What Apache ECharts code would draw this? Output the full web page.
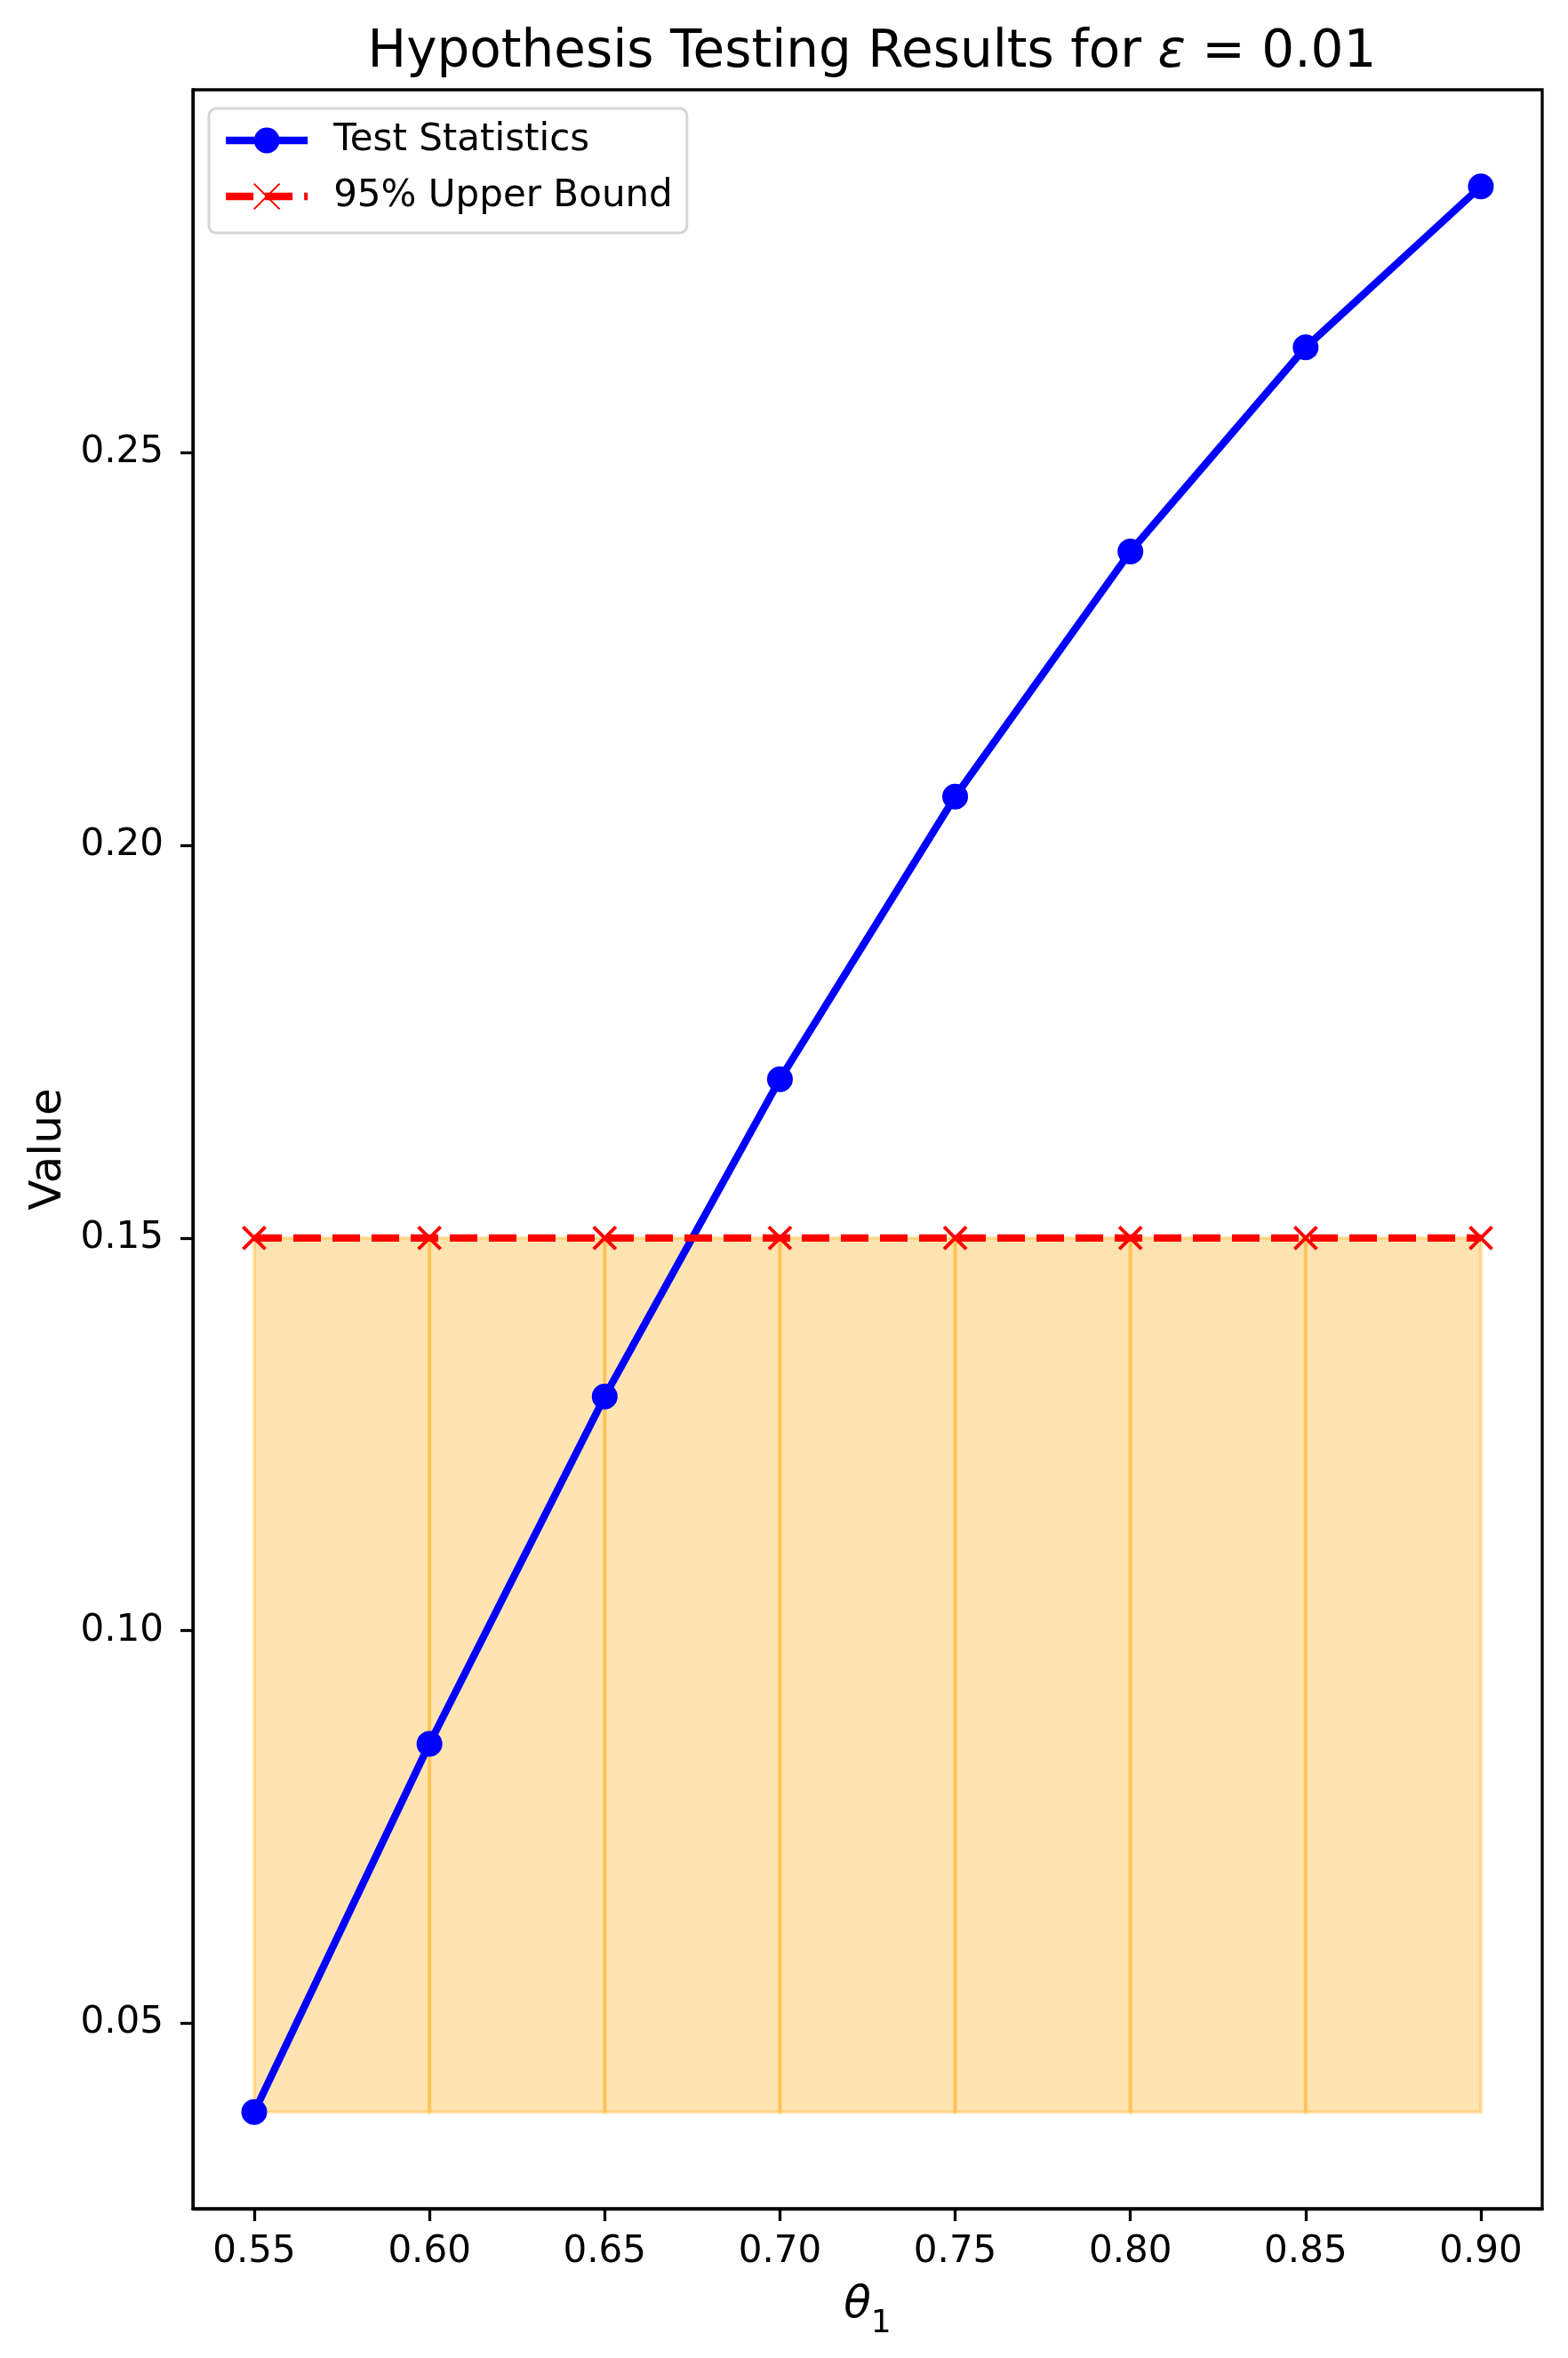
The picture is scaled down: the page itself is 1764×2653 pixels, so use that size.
<!DOCTYPE html>
<html>
<head>
<meta charset="utf-8">
<title>Hypothesis Testing Results</title>
<script src="https://cdn.jsdelivr.net/npm/echarts@6/dist/echarts.min.js"></script>
<style>
  html, body { margin: 0; padding: 0; background: #fff; }
  #chart { width: 1764px; height: 2653px; }
</style>
</head>
<body>
<div id="chart"></div>
<script>
// values
var theta = [0.55, 0.60, 0.65, 0.70, 0.75, 0.80, 0.85, 0.90];
var testStats = [0.0387, 0.0856, 0.1298, 0.1702, 0.2062, 0.2374, 0.2634, 0.2839];
var upperBound = [0.15, 0.15, 0.15, 0.15, 0.15, 0.15, 0.15, 0.15];
var xTicks = [0.55, 0.60, 0.65, 0.70, 0.75, 0.80, 0.85, 0.90];
var yTicks = [0.05, 0.10, 0.15, 0.20, 0.25];
var xRange = [0.5325, 0.9175];
var yRange = [0.0264, 0.2962];

var font = 'DejaVu Sans';
var fillLow = Math.min.apply(null, testStats);

// one shaded block per step, like the separate fills in the original
var fillSegs = [];
for (let i = 0; i < theta.length - 1; i++) {
    fillSegs.push([theta[i], theta[i + 1], fillLow, upperBound[i]]);
}

function pairs(xs, ys) {
    return xs.map(function (x, i) { return [x, ys[i]]; });
}

var myChart = echarts.init(document.getElementById('chart'));

var option = {
    animation: false,
    backgroundColor: '#fff',
    title: {
        text: 'Hypothesis Testing Results for {i|ε} = 0.01',
        left: 976,
        top: 26,
        textAlign: 'center',
        textStyle: {
            fontFamily: font,
            fontSize: 58,
            fontWeight: 'normal',
            color: '#000',
            rich: {
                i: { fontFamily: font, fontSize: 58, fontStyle: 'italic', color: '#000' }
            }
        }
    },
    legend: {
        orient: 'vertical',
        left: 235,
        top: 122,
        padding: [15, 16, 20, 15],
        itemWidth: 92,
        itemHeight: 36,
        itemGap: 21,
        borderColor: '#d6d6d6',
        borderWidth: 3,
        borderRadius: 8,
        backgroundColor: 'rgba(255,255,255,0.8)',
        lineStyle: { width: 'inherit', type: 'inherit' },
        textStyle: {
            fontFamily: font,
            fontSize: 42,
            lineHeight: 42,
            color: '#000',
            padding: [0, 0, 0, 24]
        },
        data: ['Test Statistics', '95% Upper Bound']
    },
    grid: {
        left: 217,
        right: 29,
        top: 101,
        bottom: 168,
        show: true,
        borderColor: '#000',
        borderWidth: 3.3,
        containLabel: false
    },
    xAxis: {
        type: 'value',
        min: xRange[0],
        max: xRange[1],
        name: '{i|θ}{s|1}',
        nameLocation: 'middle',
        nameGap: 84,
        nameTextStyle: {
            rich: {
                i: { fontFamily: font, fontSize: 50, fontStyle: 'italic', color: '#000' },
                s: { fontFamily: font, fontSize: 36, color: '#000', verticalAlign: 'bottom', padding: [0, 0, -14, 0] }
            }
        },
        axisLine: { lineStyle: { color: '#000', width: 3.3 } },
        axisTick: { length: 14, lineStyle: { color: '#000', width: 3.3 }, customValues: xTicks },
        axisLabel: {
            customValues: xTicks,
            margin: 28,
            fontFamily: font,
            fontSize: 42,
            color: '#000',
            formatter: function (v) { return v.toFixed(2); }
        },
        splitLine: { show: false }
    },
    yAxis: {
        type: 'value',
        min: yRange[0],
        max: yRange[1],
        name: 'Value',
        nameLocation: 'middle',
        nameGap: 137,
        nameTextStyle: { fontFamily: font, fontSize: 50, color: '#000' },
        axisLine: { show: true, lineStyle: { color: '#000', width: 3.3 } },
        axisTick: { show: true, length: 14, lineStyle: { color: '#000', width: 3.3 }, customValues: yTicks },
        axisLabel: {
            customValues: yTicks,
            margin: 33,
            fontFamily: font,
            fontSize: 42,
            color: '#000',
            formatter: function (v) { return v.toFixed(2); }
        },
        splitLine: { show: false }
    },
    series: [
        {
            name: 'fill',
            type: 'custom',
            z: 1,
            silent: true,
            encode: { x: [0, 1], y: [2, 3] },
            data: fillSegs,
            renderItem: function (params, api) {
                var p0 = api.coord([api.value(0), api.value(3)]);
                var p1 = api.coord([api.value(1), api.value(2)]);
                return {
                    type: 'rect',
                    shape: { x: p0[0], y: p0[1], width: p1[0] - p0[0], height: p1[1] - p0[1] },
                    style: {
                        fill: 'rgba(255,165,0,0.3)',
                        stroke: 'rgba(255,165,0,0.3)',
                        lineWidth: 4
                    }
                };
            }
        },
        {
            name: 'Test Statistics',
            type: 'line',
            z: 3,
            data: pairs(theta, testStats),
            symbol: 'circle',
            symbolSize: 29,
            showAllSymbol: true,
            lineStyle: { color: '#0000ff', width: 8.3 },
            itemStyle: { color: '#0000ff', borderWidth: 0 }
        },
        {
            name: '95% Upper Bound',
            type: 'line',
            z: 4,
            data: pairs(theta, upperBound),
            symbol: 'path://M0,0L10,10M10,0L0,10',
            symbolSize: 25,
            showAllSymbol: true,
            lineStyle: { color: '#ff0000', width: 8.3, type: [31, 13] },
            itemStyle: { color: '#ff0000', borderColor: '#ff0000', borderWidth: 4 }
        }
    ]
};

myChart.setOption(option);
</script>
</body>
</html>
